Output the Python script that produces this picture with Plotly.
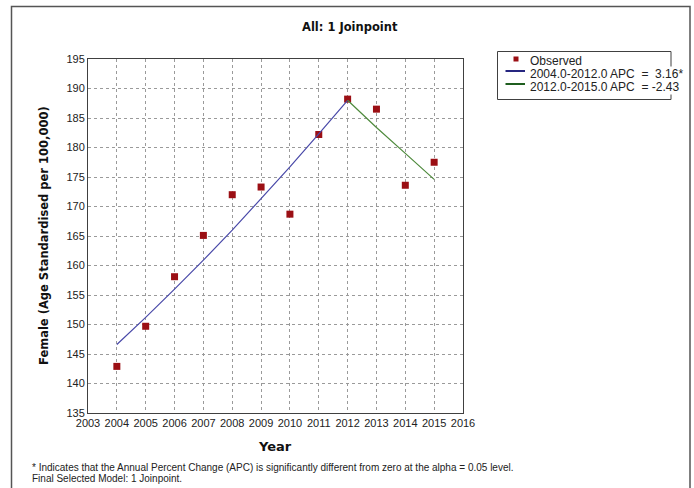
import plotly.graph_objects as go

# Observed age-standardised rates (female, per 100,000)
years = [2004, 2005, 2006, 2007, 2008, 2009, 2010, 2011, 2012, 2013, 2014, 2015]
observed = [142.9, 149.7, 158.1, 165.1, 172.0, 173.3, 168.7, 182.2, 188.2, 186.5, 173.6, 177.5]

# Joinpoint model fitted values, segment 1 (2004-2012) and segment 2 (2012-2015)
seg1_years = [2004, 2005, 2006, 2007, 2008, 2009, 2010, 2011, 2012]
seg1_fit = [146.6, 151.2, 156.0, 160.9, 166.0, 171.3, 176.7, 182.3, 188.0]
seg2_years = [2012, 2013, 2014, 2015]
seg2_fit = [188.0, 183.4, 179.0, 174.6]

obs_label = "Observed"
seg1_label = "2004.0-2012.0 APC  =  3.16*"
seg2_label = "2012.0-2015.0 APC  = -2.43"

MARKER_COLOR = "#9b0f14"
SEG1_COLOR = "#4848a8"
SEG2_COLOR = "#4e8a3c"

# Plot-area geometry in pixels
W, H = 694, 488
L, R, T, B = 88, 463, 59, 413


def px(x):
    return (x - L) / (R - L)


def py(y):
    return (B - y) / (B - T)


fig = go.Figure()
fig.add_trace(go.Scatter(
    x=years, y=observed, mode="markers", name=obs_label,
    marker=dict(symbol="square", size=7, color=MARKER_COLOR),
))
fig.add_trace(go.Scatter(
    x=seg1_years, y=seg1_fit, mode="lines", name=seg1_label,
    line=dict(color=SEG1_COLOR, width=1.2),
))
fig.add_trace(go.Scatter(
    x=seg2_years, y=seg2_fit, mode="lines", name=seg2_label,
    line=dict(color=SEG2_COLOR, width=1.2),
))

tick_font = dict(family="Liberation Sans, Arial", size=11, color="#222")
axis_common = dict(
    showgrid=True, gridcolor="#9a9a9a", griddash="dot", gridwidth=1,
    showline=True, linecolor="#404040", linewidth=1, mirror=True,
    zeroline=False, ticks="", tickangle=0,
    tickfont=tick_font,
)

fig.update_layout(
    width=W, height=H,
    margin=dict(l=L, r=W - R, t=T, b=H - B),
    paper_bgcolor="white", plot_bgcolor="white",
    showlegend=False,
    xaxis=dict(
        range=[2003, 2016], tickmode="linear", tick0=2003, dtick=1,
        **axis_common,
    ),
    yaxis=dict(
        range=[135, 195], tickmode="linear", tick0=135, dtick=5,
        **axis_common,
    ),
)


def label(x, y, text, font, xanchor="center", angle=0, bg=None):
    fig.add_annotation(
        x=px(x), y=py(y), xref="paper", yref="paper",
        xanchor=xanchor, yanchor="middle", text=text, showarrow=False,
        textangle=angle, font=font, bgcolor=bg, borderpad=0,
    )


bold_font = dict(family="DejaVu Sans, Verdana", color="#111")

# Chart title and axis titles
label(350, 27, "<b>All: 1 Joinpoint</b>", dict(bold_font, size=11.5))
label(275, 446, "<b>Year</b>", dict(bold_font, size=13))
label(44, 236, "<b>Female (Age Standardised per 100,000)</b>", dict(bold_font, size=11.5), angle=-90)

# Footnotes
foot_font = dict(family="Liberation Sans, Arial", size=10, color="#222")
label(31, 467, "* Indicates that the Annual Percent Change (APC) is significantly different from zero at the alpha = 0.05 level.",
      foot_font, xanchor="left")
label(31, 478, "Final Selected Model: 1 Joinpoint.", foot_font, xanchor="left")

# Legend box with its entries
leg_font = dict(family="Liberation Sans, Arial", size=12, color="#222")
fig.add_shape(type="rect", xref="paper", yref="paper",
              x0=px(497.5), x1=px(671), y0=py(99.5), y1=py(51.5),
              line=dict(color="#404040", width=1), fillcolor="white")
fig.add_shape(type="rect", xref="paper", yref="paper",
              x0=px(513.5), x1=px(518.5), y0=py(61.5), y1=py(56.5),
              line=dict(width=0), fillcolor=MARKER_COLOR)
fig.add_shape(type="line", xref="paper", yref="paper",
              x0=px(505.5), x1=px(525), y0=py(71), y1=py(71),
              line=dict(color="#262680", width=2))
fig.add_shape(type="line", xref="paper", yref="paper",
              x0=px(505.5), x1=px(525), y0=py(84), y1=py(84),
              line=dict(color="#1f5e1f", width=2))
label(529, 61, obs_label, leg_font, xanchor="left", bg="white")
label(529, 74, seg1_label, leg_font, xanchor="left", bg="white")
label(529, 87, seg2_label, leg_font, xanchor="left", bg="white")

# Outer frame
fig.add_shape(
    type="rect", xref="paper", yref="paper",
    x0=px(11.5), x1=px(690), y0=py(500), y1=py(6.5),
    line=dict(color="#555555", width=1.5), layer="below",
)

fig.write_html("out.html", config={"displayModeBar": False})
